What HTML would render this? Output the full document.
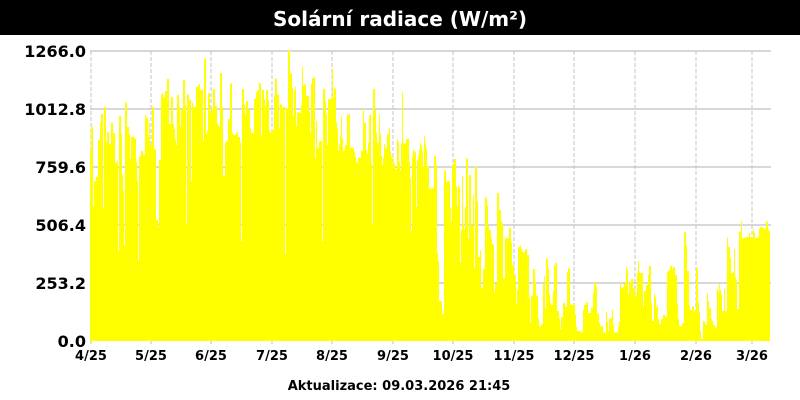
<!DOCTYPE html>
<html><head><meta charset="utf-8"><style>
html,body{margin:0;padding:0;background:#fff;width:800px;height:400px;overflow:hidden}
svg{display:block}
text{font-family:"DejaVu Sans","Liberation Sans",sans-serif;font-weight:bold;fill:#000}
</style></head><body>
<svg width="800" height="400" viewBox="0 0 800 400" xmlns="http://www.w3.org/2000/svg">
<rect x="0" y="0" width="800" height="400" fill="#fff"/>
<rect x="0" y="0" width="800" height="35" fill="#000"/>
<text x="400" y="26" text-anchor="middle" style="font-size:20px;fill:#fff">Solární radiace (W/m²)</text>
<g stroke="#c0c0c0" stroke-width="1.2">
<line x1="90" y1="51" x2="771" y2="51"/>
<line x1="90" y1="109" x2="771" y2="109"/>
<line x1="90" y1="167" x2="771" y2="167"/>
<line x1="90" y1="225" x2="771" y2="225"/>
<line x1="90" y1="283" x2="771" y2="283"/>
</g>
<g stroke="#c4c4c4" stroke-width="1" stroke-dasharray="4,2">
<line x1="91" y1="51" x2="91" y2="341"/>
<line x1="151" y1="51" x2="151" y2="341"/>
<line x1="211" y1="51" x2="211" y2="341"/>
<line x1="272" y1="51" x2="272" y2="341"/>
<line x1="332" y1="51" x2="332" y2="341"/>
<line x1="393" y1="51" x2="393" y2="341"/>
<line x1="453" y1="51" x2="453" y2="341"/>
<line x1="514" y1="51" x2="514" y2="341"/>
<line x1="574" y1="51" x2="574" y2="341"/>
<line x1="635" y1="51" x2="635" y2="341"/>
<line x1="696" y1="51" x2="696" y2="341"/>
<line x1="752" y1="51" x2="752" y2="341"/>
</g>
<g stroke="#c0c0c0" stroke-width="1">
<line x1="91" y1="341" x2="91" y2="344"/>
<line x1="151" y1="341" x2="151" y2="344"/>
<line x1="211" y1="341" x2="211" y2="344"/>
<line x1="272" y1="341" x2="272" y2="344"/>
<line x1="332" y1="341" x2="332" y2="344"/>
<line x1="393" y1="341" x2="393" y2="344"/>
<line x1="453" y1="341" x2="453" y2="344"/>
<line x1="514" y1="341" x2="514" y2="344"/>
<line x1="574" y1="341" x2="574" y2="344"/>
<line x1="635" y1="341" x2="635" y2="344"/>
<line x1="696" y1="341" x2="696" y2="344"/>
<line x1="752" y1="341" x2="752" y2="344"/>
</g>
<g fill="#ffff00">
<path transform="translate(88,45) scale(0.3333333)" d="M6,888 V318 H9 V245 H15 V485 H18 V408 H24 V396 H30 V285 H36 V232 H39 V207 H45 V490 H48 V186 H54 V293 H57 V262 H63 V297 H69 V234 H75 V264 H81 V353 H87 V350 H90 V618 H93 V213 H99 V267 H102 V388 H105 V437 H108 V603 H111 V172 H117 V246 H123 V267 H126 V342 H129 V276 H135 V270 H138 V280 H144 V352 H147 V408 H150 V648 H153 V334 H159 V318 H165 V330 H171 V210 H174 V218 H180 V276 H183 V234 H186 V300 H192 V186 H198 V312 H204 V525 H210 V545 H213 V345 H219 V147 H225 V158 H231 V138 H237 V102 H243 V237 H249 V156 H255 V237 H258 V252 H261 V283 H264 V300 H267 V150 H273 V185 H276 V243 H279 V195 H285 V105 H291 V180 H294 V535 H297 V148 H303 V165 H309 V408 H312 V172 H315 V186 H324 V126 H330 V118 H336 V135 H345 V288 H348 V40 H354 V267 H357 V256 H360 V145 H366 V205 H369 V190 H375 V132 H381 V183 H387 V236 H390 V243 H396 V84 H402 V186 H405 V393 H411 V293 H414 V288 H420 V222 H426 V115 H432 V263 H435 V270 H444 V262 H450 V276 H456 V292 H459 V588 H462 V132 H468 V178 H471 V210 H474 V168 H480 V195 H486 V250 H489 V264 H498 V162 H504 V142 H507 V136 H513 V114 H516 V888 Z"/>
<path transform="translate(260,45) scale(0.3333333)" d="M0,888 V115 H3 V272 H6 V135 H12 V162 H15 V182 H18 V135 H24 V165 H27 V255 H30 V262 H36 V255 H42 V152 H45 V100 H51 V148 H57 V250 H60 V178 H66 V188 H69 V186 H75 V627 H78 V190 H84 V16 H90 V85 H96 V130 H99 V213 H102 V136 H105 V124 H108 V245 H111 V202 H120 V205 H123 V180 H126 V66 H129 V122 H132 V118 H138 V153 H147 V200 H150 V263 H153 V116 H156 V99 H162 V96 H165 V340 H168 V228 H171 V310 H177 V290 H180 V288 H186 V588 H189 V132 H195 V168 H198 V207 H201 V300 H204 V162 H213 V158 H216 V70 H219 V158 H222 V130 H228 V233 H231 V250 H234 V318 H237 V298 H240 V272 H243 V214 H246 V282 H249 V318 H255 V300 H261 V208 H270 V310 H273 V306 H276 V310 H279 V306 H282 V320 H285 V336 H288 V350 H291 V355 H294 V338 H303 V318 H309 V192 H312 V234 H318 V315 H321 V325 H324 V294 H327 V210 H333 V355 H336 V537 H339 V132 H345 V195 H348 V262 H351 V293 H357 V208 H360 V265 H363 V333 H366 V360 H369 V340 H372 V298 H375 V310 H381 V268 H384 V265 H387 V250 H390 V320 H393 V335 H399 V355 H405 V372 H411 V283 H414 V290 H417 V352 H420 V375 H423 V295 H426 V142 H429 V295 H438 V283 H441 V282 H444 V280 H447 V350 H450 V400 H453 V558 H456 V335 H459 V317 H465 V322 H468 V486 H471 V345 H474 V335 H477 V315 H480 V292 H483 V302 H486 V318 H489 V365 H492 V273 H495 V295 H498 V310 H501 V364 H507 V430 H516 V888 Z"/>
<path transform="translate(432,45) scale(0.3333333)" d="M0,888 V430 H6 V333 H12 V360 H15 V624 H18 V648 H21 V768 H30 V806 H36 V376 H42 V410 H48 V408 H54 V490 H57 V530 H60 V357 H66 V342 H72 V424 H75 V480 H78 V424 H84 V654 H87 V555 H90 V393 H93 V538 H96 V555 H99 V486 H102 V340 H108 V582 H111 V390 H117 V542 H123 V450 H126 V668 H129 V365 H135 V468 H138 V636 H144 V615 H147 V728 H153 V672 H159 V457 H165 V480 H168 V543 H171 V555 H177 V580 H180 V598 H186 V740 H189 V716 H195 V444 H201 V495 H207 V528 H210 V535 H213 V700 H219 V578 H222 V580 H231 V548 H237 V593 H240 V660 H246 V690 H252 V776 H255 V735 H258 V606 H264 V600 H267 V610 H270 V620 H273 V622 H279 V612 H285 V630 H291 V758 H294 V833 H297 V752 H303 V672 H309 V712 H312 V752 H318 V820 H321 V845 H327 V838 H333 V716 H336 V693 H339 V790 H342 V640 H348 V670 H351 V747 H354 V772 H357 V780 H363 V738 H366 V662 H369 V654 H375 V798 H381 V822 H384 V852 H387 V816 H393 V774 H399 V786 H405 V681 H408 V670 H414 V778 H420 V780 H426 V778 H429 V808 H432 V846 H435 V858 H447 V862 H453 V795 H456 V780 H462 V772 H468 V804 H477 V788 H483 V742 H486 V714 H492 V725 H495 V806 H501 V834 H504 V844 H510 V842 H513 V862 H516 V888 Z"/>
<path transform="translate(604,45) scale(0.3333333)" d="M0,888 V862 H6 V800 H9 V830 H12 V858 H15 V820 H24 V795 H27 V840 H30 V862 H42 V846 H45 V830 H48 V712 H51 V728 H57 V726 H60 V716 H66 V665 H69 V675 H72 V748 H75 V710 H78 V712 H81 V702 H87 V730 H93 V752 H99 V684 H102 V648 H105 V680 H108 V684 H117 V786 H120 V738 H126 V720 H132 V688 H135 V663 H141 V774 H144 V828 H150 V747 H153 V756 H156 V784 H162 V822 H165 V837 H171 V822 H177 V810 H183 V816 H189 V682 H192 V676 H198 V663 H204 V672 H207 V666 H213 V690 H219 V778 H222 V820 H225 V843 H234 V834 H240 V562 H246 V603 H249 V678 H255 V782 H258 V795 H264 V784 H270 V800 H276 V670 H282 V772 H285 V802 H288 V858 H291 V882 H297 V828 H300 V830 H303 V840 H309 V744 H312 V768 H315 V790 H321 V822 H324 V828 H327 V840 H333 V848 H339 V732 H342 V740 H345 V718 H348 V734 H351 V748 H354 V798 H360 V733 H363 V800 H369 V576 H372 V606 H378 V640 H381 V686 H384 V682 H390 V612 H393 V696 H396 V706 H399 V792 H405 V560 H411 V528 H414 V580 H420 V578 H426 V576 H435 V564 H438 V576 H444 V580 H447 V552 H450 V562 H453 V580 H456 V578 H462 V575 H465 V552 H468 V546 H477 V550 H486 V528 H489 V532 H492 V556 H498 V888 Z"/>
</g>
<g style="font-size:16px" text-anchor="end">
<text x="86" y="57">1266.0</text>
<text x="86" y="115">1012.8</text>
<text x="86" y="173">759.6</text>
<text x="86" y="231">506.4</text>
<text x="86" y="289">253.2</text>
<text x="86" y="347">0.0</text>
</g>
<g style="font-size:13px" text-anchor="middle">
<text x="91" y="360">4/25</text>
<text x="151" y="360">5/25</text>
<text x="211" y="360">6/25</text>
<text x="272" y="360">7/25</text>
<text x="332" y="360">8/25</text>
<text x="393" y="360">9/25</text>
<text x="453" y="360">10/25</text>
<text x="514" y="360">11/25</text>
<text x="574" y="360">12/25</text>
<text x="635" y="360">1/26</text>
<text x="696" y="360">2/26</text>
<text x="752" y="360">3/26</text>
</g>
<text x="399" y="390" text-anchor="middle" style="font-size:13px">Aktualizace: 09.03.2026 21:45</text>
</svg>
</body></html>
